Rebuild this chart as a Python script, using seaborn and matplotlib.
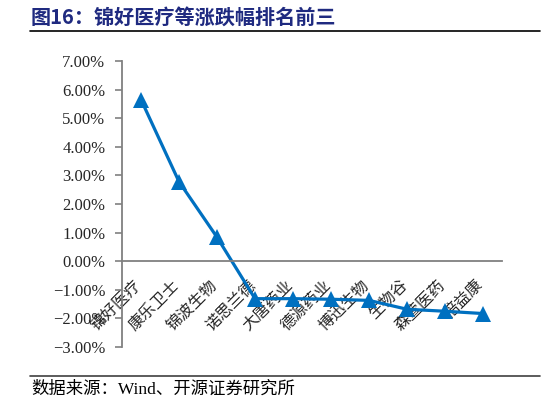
import matplotlib
matplotlib.use("Agg")
import matplotlib.pyplot as plt
import seaborn as sns
import pandas as pd
import numpy as np
from matplotlib.lines import Line2D
from matplotlib.ticker import FixedLocator, PercentFormatter

companies = ["锦好医疗", "康乐卫士", "锦波生物", "诺思兰德", "大唐药业",
             "德源药业", "博迅生物", "生物谷", "森萱医药", "倍益康"]
changes = [5.65, 2.78, 0.84, -1.31, -1.31, -1.33, -1.37, -1.68, -1.75, -1.83]
yticks = [7, 6, 5, 4, 3, 2, 1, 0, -1, -2, -3]

title = "图16：锦好医疗等涨跌幅排名前三"
source = "数据来源：Wind、开源证券研究所"

sns.set_theme(style="white")
plt.rcParams['font.family'] = ['Liberation Serif', 'Noto Sans CJK SC', 'DejaVu Sans']

df = pd.DataFrame({"company": companies, "change": changes, "pos": np.arange(len(companies))})

fig = plt.figure(figsize=(5.46, 4.05), dpi=100)
ax = fig.add_axes([122/546, 1-347/405, 380/546, 286/405])

sns.lineplot(data=df, x="pos", y="change", ax=ax, color="#0070C0", linewidth=2.3,
             marker="^", markersize=12, markeredgewidth=0, markerfacecolor="#0070C0")

ax.set_xlim(-0.5, len(companies) - 0.5)
ax.set_ylim(-3, 7)
ax.set_yticks(yticks)
ax.yaxis.set_major_formatter(PercentFormatter(decimals=2))
ax.set_xlabel("")
ax.set_ylabel("")

for s in ["top", "right"]:
    ax.spines[s].set_visible(False)
ax.spines["left"].set_color("#808080")
ax.spines["left"].set_linewidth(1.3)
ax.spines["bottom"].set_color("#808080")
ax.spines["bottom"].set_linewidth(1.3)
ax.spines["bottom"].set_position(("data", 0))

ax.set_xticks(df["pos"])
ax.set_xticklabels(companies, rotation=45, ha="right", va="top", rotation_mode="anchor",
                   fontsize=11.5, family=["Noto Sans CJK SC"])
ax.xaxis.set_minor_locator(FixedLocator(np.arange(-0.5, len(companies), 1.0)))
ax.tick_params(axis="x", which="major", length=0, pad=3)
ax.tick_params(axis="x", which="minor", length=5, direction="in", color="#808080", width=1.2)
shift = matplotlib.transforms.ScaledTranslation(-0.08, -0.11, fig.dpi_scale_trans)
for lbl in ax.get_xticklabels():
    lbl.set_transform(lbl.get_transform() + shift)

ax.tick_params(axis="y", which="major", length=5, direction="out", color="#808080", width=1.2,
               labelsize=12, pad=7, left=True)
for lbl in ax.get_yticklabels():
    lbl.set_family("Liberation Serif")

fig.text(31/546, 1-17/405, title, fontsize=14.5, fontweight="bold", color="#1F2A80",
         family=["Noto Sans CJK SC"], ha="left", va="center")
fig.add_artist(Line2D([30/546, 540/546], [1-31/405, 1-31/405], color="black", linewidth=1.2,
                      transform=fig.transFigure))
fig.add_artist(Line2D([30/546, 540/546], [1-376/405, 1-376/405], color="#404040", linewidth=1.2,
                      transform=fig.transFigure))
fig.text(31/546, 1-390/405, source, fontsize=12.5, color="black",
         family=["Liberation Serif", "Noto Sans CJK SC"], ha="left", va="center")

fig.savefig("out.png", dpi=100)
